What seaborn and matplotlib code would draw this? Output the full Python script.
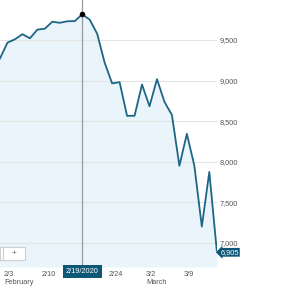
import pandas as pd
import matplotlib
matplotlib.use("Agg")
import matplotlib.pyplot as plt
import matplotlib.transforms as mtransforms
from matplotlib.patches import Rectangle
import seaborn as sns

# Nasdaq closes, trading days only
dates = ["1/31", "2/3", "2/4", "2/5", "2/6", "2/7", "2/10", "2/11", "2/12", "2/13", "2/14",
         "2/18", "2/19", "2/20", "2/21", "2/24", "2/25", "2/26", "2/27", "2/28",
         "3/2", "3/3", "3/4", "3/5", "3/6", "3/9", "3/10", "3/11", "3/12", "3/13", "3/16"]
closes = [9151, 9273, 9468, 9509, 9572, 9521, 9628, 9639, 9726, 9712, 9731,
          9733, 9817, 9751, 9577, 9221, 8966, 8981, 8566, 8567,
          8952, 8684, 9018, 8739, 8576, 7951, 8344, 7952, 7202, 7875, 6905]
tick_dates = ["2/3", "2/10", "2/24", "3/2", "3/9"]
tick_labels = ["2/3\nFebruary", "2/10", "2/24", "3/2\nMarch", "3/9"]
y_ticks = [7000, 7500, 8000, 8500, 9000, 9500]
peak_date = "2/19"
peak_label = "2/19/2020"

df = pd.DataFrame({"date": dates, "close": closes})
df["i"] = range(-1, len(df) - 1)

LINE = "#1f6585"
FILL = "#e9f5fa"
TAG = "#0d5877"
TXT = "#555555"

sns.set_style("white")
plt.rcParams["font.family"] = ["Liberation Sans", "DejaVu Sans"]

fig = plt.figure(figsize=(2.88, 3.0), dpi=100)
ax = fig.add_axes([0, 33 / 300, 217 / 288, 267 / 300])

ymin, ymax = 6704, 9993
ax.fill_between(df["i"], df["close"], ymin, color=FILL, lw=0, zorder=1)
for y in y_ticks:
    ax.axhline(y, color="#e4e4e4", lw=0.8, zorder=1.5)
sns.lineplot(data=df, x="i", y="close", color=LINE, lw=1.3, ax=ax, zorder=3)

pk = df[df["date"] == peak_date].iloc[0]
ax.axvline(pk["i"], color="#9a9a9a", lw=0.9, zorder=2)
ax.scatter([pk["i"]], [pk["close"]], s=9, color="black", zorder=4)

ax.set_xlim(0, df["i"].iloc[-1] + 0.03)
ax.set_ylim(ymin, ymax)
for s in ax.spines.values():
    s.set_visible(False)
ax.set_xlabel("")
ax.set_ylabel("")

# x labels sit just right of their date
ax.set_xticks([])
trans = mtransforms.blended_transform_factory(ax.transData, ax.transAxes)
shift = mtransforms.ScaledTranslation(4 / 100, -4 / 100, fig.dpi_scale_trans)
for d, lab in zip(tick_dates, tick_labels):
    xi = df.loc[df["date"] == d, "i"].iloc[0]
    ax.text(xi, 0, lab, transform=trans + shift, ha="left", va="top", fontsize=5.3,
            color=TXT, linespacing=1.1, clip_on=False)

ax.yaxis.tick_right()
ax.set_yticks(y_ticks)
ax.set_yticklabels([f"{v:,}" for v in y_ticks], fontsize=5.3, color=TXT)
ax.tick_params(axis="y", length=0, pad=2, labelleft=False, labelright=True)

# date tag under the crosshair
ax.text(pk["i"], -0.005, peak_label, transform=trans, ha="center", va="top",
        fontsize=5.3, color="white", clip_on=False, zorder=5,
        bbox=dict(boxstyle="square,pad=0.4", fc=TAG, ec="none"))

# last value tag
last = df.iloc[-1]
ax.text(last["i"] + 0.5, last["close"] - 20, f"{last['close']:,}", ha="left", va="center",
        fontsize=5.3, color="white", clip_on=False, zorder=5,
        bbox=dict(boxstyle="larrow,pad=0.12", fc=TAG, ec="none"))

# zoom control remnant
ax.add_patch(Rectangle((0, 0.026), 0.115, 0.05, transform=ax.transAxes, fc="white",
                       ec="#cfcfcf", lw=0.8, zorder=6, clip_on=False))
ax.plot([0.014, 0.014], [0.026, 0.076], transform=ax.transAxes, color="#cfcfcf", lw=0.8, zorder=7)
ax.text(0.065, 0.051, "+", transform=ax.transAxes, ha="center", va="center",
        fontsize=6, color="#666666", zorder=7)

fig.savefig("out.png", dpi=100)
